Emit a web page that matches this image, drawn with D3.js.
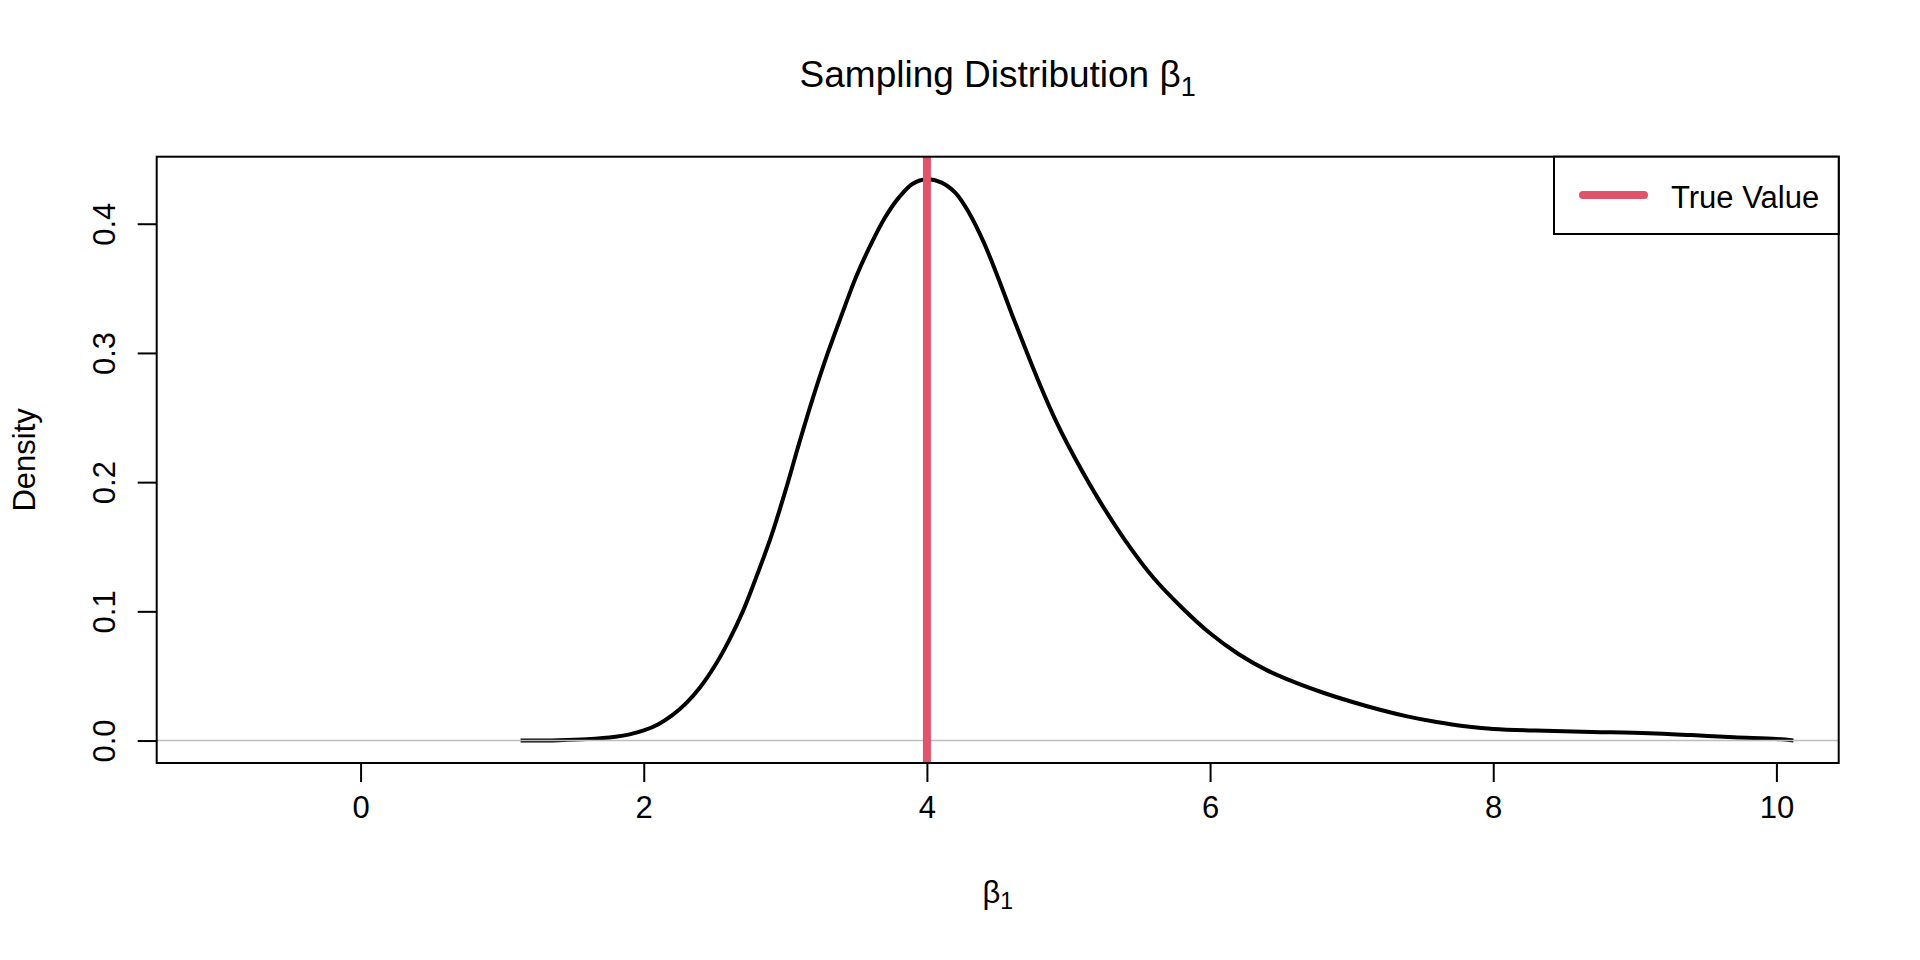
<!DOCTYPE html>
<html>
<head>
<meta charset="utf-8">
<script src="https://cdn.jsdelivr.net/npm/d3@7"></script>
<style>
  body { margin: 0; background: #fff; }
  text { font-family: Arial, "Liberation Sans", sans-serif; fill: #000; }
</style>
</head>
<body>
<svg id="chart" width="1920" height="960"></svg>
<script>
// density estimate of beta_1
var densX = [1.13, 1.4, 1.6, 1.8, 1.9, 2.0, 2.1, 2.2, 2.3, 2.4, 2.5, 2.6, 2.7, 2.8, 2.9,
  3.0, 3.1, 3.2, 3.3, 3.4, 3.5, 3.6, 3.7, 3.8, 3.9, 4.0, 4.1, 4.2, 4.3, 4.4, 4.5,
  4.6, 4.7, 4.8, 4.9, 5.0, 5.2, 5.4, 5.6, 5.8, 6.0, 6.2, 6.4, 6.6, 6.8, 7.0, 7.2,
  7.4, 7.6, 7.8, 8.0, 8.3, 8.7, 9.1, 9.4, 9.7, 10.0, 10.12];
var densY = [0, 0.0003, 0.0011, 0.003, 0.0048, 0.0078, 0.0125, 0.0195, 0.029, 0.0415, 0.0575, 0.077, 0.100, 0.128, 0.158,
  0.193, 0.231, 0.267, 0.300, 0.330, 0.359, 0.383, 0.404, 0.420, 0.431, 0.4345, 0.432, 0.424, 0.408, 0.386, 0.359,
  0.330, 0.302, 0.275, 0.250, 0.228, 0.189, 0.155, 0.126, 0.103, 0.083, 0.067, 0.0545, 0.045, 0.037, 0.030, 0.0238,
  0.0185, 0.0143, 0.011, 0.009, 0.0077, 0.0067, 0.0057, 0.0042, 0.0025, 0.0012, 0];
var xTicks = [0, 2, 4, 6, 8, 10];
var yTicks = [0, 0.1, 0.2, 0.3, 0.4];
var xLim = [-1, 10];
var trueValue = 4;
var legendLabels = ["True Value"];

var W = 1920, H = 960;
var margin = {top: 156.7, right: 81.3, bottom: 197, left: 156.7};
var fs = 31;

var svg = d3.select("#chart");

// R style 4% axis extension
var xr = xLim[1] - xLim[0];
var x = d3.scaleLinear()
  .domain([xLim[0] - 0.04 * xr, xLim[1] + 0.04 * xr])
  .range([margin.left, W - margin.right]);
var yMax = d3.max(densY);
var y = d3.scaleLinear()
  .domain([-0.04 * yMax, yMax * 1.04])
  .range([H - margin.bottom, margin.top]);

svg.append("clipPath").attr("id", "plotclip")
  .append("rect")
  .attr("x", margin.left).attr("y", margin.top)
  .attr("width", W - margin.left - margin.right)
  .attr("height", H - margin.top - margin.bottom);

// axes
var xAxis = d3.axisBottom(x).tickValues(xTicks).tickSize(19).tickPadding(14)
  .tickFormat(d3.format("d"));
var gx = svg.append("g")
  .attr("transform", "translate(0," + (H - margin.bottom) + ")")
  .call(xAxis);
gx.select(".domain").remove();
gx.selectAll("line").attr("stroke", "#000").attr("stroke-width", 2);
gx.selectAll("text").attr("font-size", fs).attr("dy", "0.71em");

var yAxis = d3.axisLeft(y).tickValues(yTicks).tickSize(19).tickFormat(d3.format(".1f"));
var gy = svg.append("g")
  .attr("transform", "translate(" + margin.left + ",0)")
  .call(yAxis);
gy.select(".domain").remove();
gy.selectAll("line").attr("stroke", "#000").attr("stroke-width", 2);
gy.selectAll("text")
  .attr("font-size", fs)
  .attr("x", null).attr("dy", null)
  .attr("text-anchor", "middle")
  .attr("transform", "translate(-42,0) rotate(-90)");

// density curve
var line = d3.line()
  .x(function(d, i) { return x(densX[i]); })
  .y(function(d) { return y(d); })
  .curve(d3.curveCatmullRom.alpha(0.5));

var plot = svg.append("g").attr("clip-path", "url(#plotclip)");
plot.append("path")
  .datum(densY)
  .attr("d", line)
  .attr("fill", "none")
  .attr("stroke", "#000")
  .attr("stroke-width", 4)
  .attr("stroke-linejoin", "round");

// zero line
plot.append("line")
  .attr("x1", margin.left).attr("x2", W - margin.right)
  .attr("y1", y(0)).attr("y2", y(0))
  .attr("stroke", "#bebebe").attr("stroke-width", 1.5);

// true value
plot.append("line")
  .attr("x1", x(trueValue)).attr("x2", x(trueValue))
  .attr("y1", margin.top).attr("y2", H - margin.bottom)
  .attr("stroke", "#DF536B").attr("stroke-width", 8);

// box
svg.append("rect")
  .attr("x", margin.left).attr("y", margin.top)
  .attr("width", W - margin.left - margin.right)
  .attr("height", H - margin.top - margin.bottom)
  .attr("fill", "none").attr("stroke", "#000").attr("stroke-width", 2);

// legend
var lg = svg.append("g");
lg.append("rect")
  .attr("x", 1554).attr("y", margin.top)
  .attr("width", W - margin.right - 1554).attr("height", 234 - margin.top)
  .attr("fill", "#fff").attr("stroke", "#000").attr("stroke-width", 2);
lg.selectAll(".item").data(legendLabels).enter().append("g")
  .each(function(d, i) {
    var g = d3.select(this);
    var cy = 195 + i * 38;
    g.append("line")
      .attr("x1", 1583).attr("x2", 1644)
      .attr("y1", cy).attr("y2", cy)
      .attr("stroke", "#DF536B").attr("stroke-width", 8)
      .attr("stroke-linecap", "round");
    g.append("text")
      .attr("x", 1671).attr("y", cy + 13)
      .attr("font-size", fs)
      .text(d);
  });

// title
var title = svg.append("text")
  .attr("x", (margin.left + W - margin.right) / 2)
  .attr("y", 87)
  .attr("text-anchor", "middle")
  .attr("font-size", 37);
title.append("tspan").text("Sampling Distribution \u03B2");
title.append("tspan").attr("font-size", 27).attr("dy", 9).text("1");

// axis labels
var xl = svg.append("text")
  .attr("x", (margin.left + W - margin.right) / 2)
  .attr("y", 903)
  .attr("text-anchor", "middle")
  .attr("font-size", fs);
xl.append("tspan").text("\u03B2");
xl.append("tspan").attr("font-size", 23).attr("dy", 6).text("1");

svg.append("text")
  .attr("transform", "translate(35," + ((margin.top + H - margin.bottom) / 2) + ") rotate(-90)")
  .attr("text-anchor", "middle")
  .attr("font-size", fs)
  .text("Density");
</script>
</body>
</html>
